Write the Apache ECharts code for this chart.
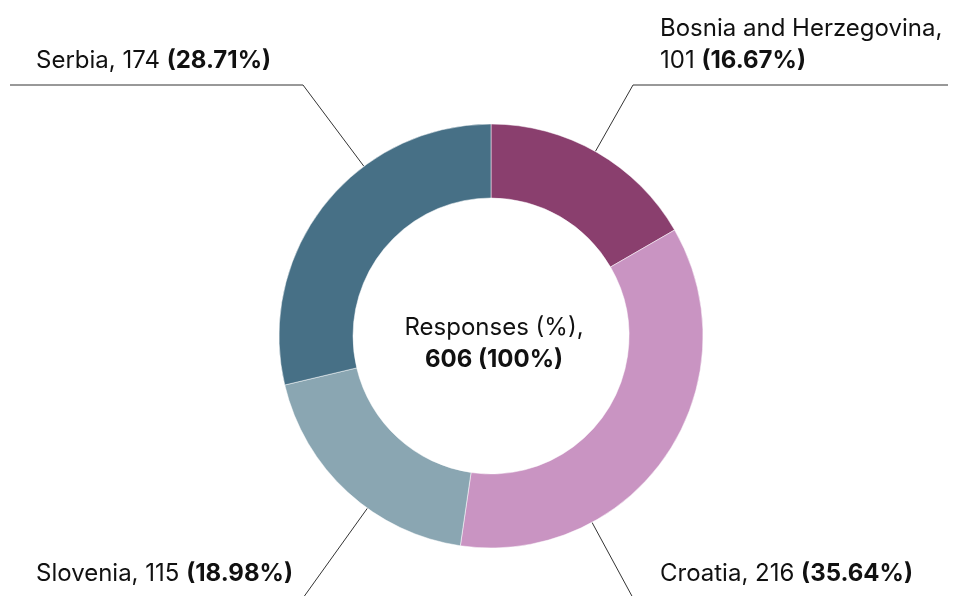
<!DOCTYPE html>
<html>
<head>
<meta charset="utf-8">
<script src="https://cdn.jsdelivr.net/npm/echarts@6/dist/echarts.min.js"></script>
<style>
  html, body { margin: 0; padding: 0; background: #fff; overflow: hidden; }
  #chart { width: 957px; height: 596px; }
</style>
</head>
<body>
<div id="chart"></div>
<script>
// data
const countries = ["Bosnia and Herzegovina", "Croatia", "Slovenia", "Serbia"];
const responses = [101, 216, 115, 174];
const colors = ["#8a3f6e", "#c994c2", "#8aa6b2", "#477086"];

const total = responses.reduce((a, b) => a + b, 0);

// layout
const CX = 491, CY = 336;
const R_IN = 138, R_OUT = 212;
const FONT = "Inter";
const FS = 24;

let chart = echarts.init(document.getElementById("chart"), null, { renderer: "canvas" });

const option = {
  animation: false,
  title: {
    left: CX - 2,
    top: 307,
    textAlign: "center",
    text: "{a|Responses (%),}\n{b|" + total + " (100%)}",
    textStyle: {
      fontWeight: "normal",
      rich: {
        a: { fontFamily: FONT, fontSize: FS, fontWeight: "normal", color: "#111", lineHeight: 32 },
        b: { fontFamily: FONT, fontSize: FS, fontWeight: "bold", color: "#111", lineHeight: 32 },
      },
    },
  },
  series: [
    {
      type: "pie",
      center: [CX, CY],
      radius: [R_IN, R_OUT],
      startAngle: 90,
      clockwise: true,
      avoidLabelOverlap: false,
      itemStyle: { borderColor: "#fff", borderWidth: 0.5 },
      emphasis: { disabled: true },
      label: {
        show: true,
        position: "outside",
        formatter: function (p) {
          const pct = ((p.value / total) * 100).toFixed(2);
          const sep = p.name.length > 15 ? ",\n" : ", ";
          return "{n|" + p.name + sep + p.value + " }{b|(" + pct + "%)}";
        },
        rich: {
          n: { fontFamily: FONT, fontSize: FS, color: "#111", lineHeight: 32 },
          b: { fontFamily: FONT, fontSize: FS, fontWeight: "bold", color: "#111", lineHeight: 32 },
        },
      },
      labelLine: {
        show: true,
        length: 20,
        length2: 20,
        lineStyle: { color: "#333", width: 1 },
      },
      labelLayout: function (params) {
        const p0 = params.labelLinePoints[0];
        const isLeft = p0[0] < CX;
        const isTop = p0[1] < CY;
        const lineY = isTop ? 85 : 598;
        const elbowX = isLeft ? 303 : 633;
        const dx = elbowX - CX, dy = lineY - CY;
        const len = Math.hypot(dx, dy);
        const start = [CX + (dx / len) * R_OUT, CY + (dy / len) * R_OUT];
        return {
          x: isLeft ? 36 : 660,
          y: lineY - 8,
          align: "left",
          verticalAlign: "bottom",
          labelLinePoints: [start, [elbowX, lineY], [isLeft ? 10 : 948, lineY]],
        };
      },
      data: countries.map((c, i) => ({
        name: c,
        value: responses[i],
        itemStyle: { color: colors[i] },
      })),
    },
  ],
};

chart.setOption(option);
</script>
</body>
</html>
